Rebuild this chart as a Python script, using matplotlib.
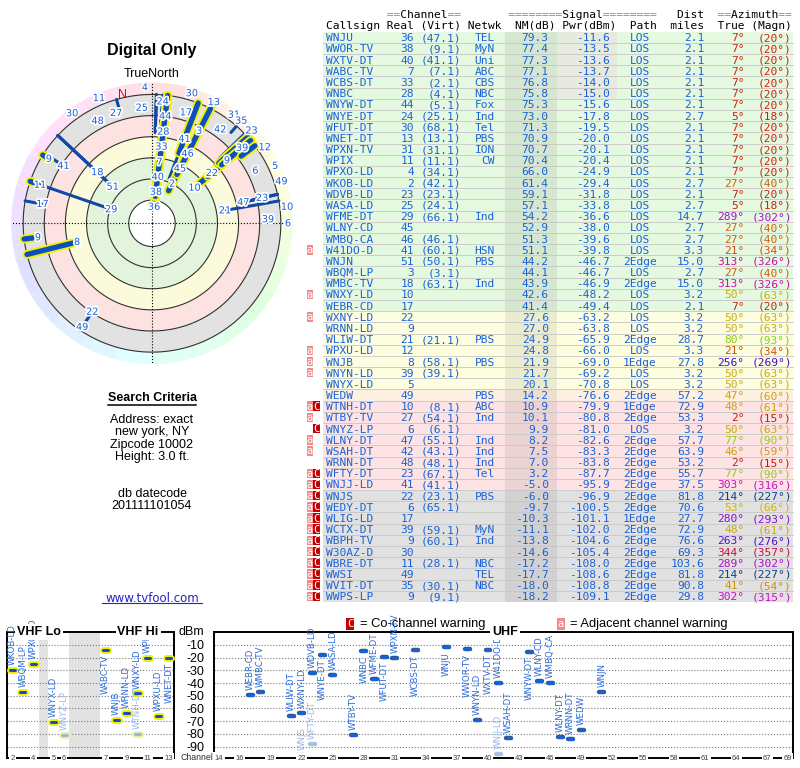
import colorsys
import numpy as np
import matplotlib
matplotlib.use("Agg")
import matplotlib.pyplot as plt
import matplotlib.patheffects as pe
import matplotlib.transforms as mtransforms
from matplotlib.patches import Rectangle
from matplotlib import font_manager

# station list
callsign = ["WNJU", "WWOR-TV", "WXTV-DT", "WABC-TV", "WCBS-DT", "WNBC", "WNYW-DT",
            "WNYE-DT", "WFUT-DT", "WNET-DT", "WPXN-TV", "WPIX", "WPXO-LD", "WKOB-LD",
            "WDVB-LD", "WASA-LD", "WFME-DT", "WLNY-CD", "WMBQ-CA", "W41DO-D", "WNJN",
            "WBQM-LP", "WMBC-TV", "WNXY-LD", "WEBR-CD", "WXNY-LD", "WRNN-LD", "WLIW-DT",
            "WPXU-LD", "WNJB", "WNYN-LD", "WNYX-LD", "WEDW", "WTNH-DT", "WTBY-TV",
            "WNYZ-LP", "WLNY-DT", "WSAH-DT", "WRNN-DT", "WFTY-DT", "WNJJ-LD", "WNJS",
            "WEDY-DT", "WLIG-LD", "WCTX-DT", "WBPH-TV", "W30AZ-D", "WBRE-DT", "WWSI",
            "WVIT-DT", "WWPS-LP"]
real_ch = [36, 38, 40, 7, 33, 28, 44, 24, 30, 13, 31, 11, 4, 2, 23, 25, 29, 45, 46, 41,
           51, 3, 18, 10, 17, 22, 9, 21, 12, 8, 39, 5, 49, 10, 27, 6, 47, 42, 48, 23,
           41, 22, 6, 17, 39, 9, 30, 11, 49, 35, 9]
virt_ch = [47.1, 9.1, 41.1, 7.1, 2.1, 4.1, 5.1, 25.1, 68.1, 13.1, 31.1, 11.1, 34.1, 42.1,
           23.1, 24.1, 66.1, None, 46.1, 60.1, 50.1, 3.1, 63.1, None, None, None, None,
           21.1, None, 58.1, 39.1, None, None, 8.1, 54.1, 6.1, 55.1, 43.1, 48.1, 67.1,
           41.1, 23.1, 65.1, None, 59.1, 60.1, None, 28.1, None, 30.1, 9.1]
network = ["TEL", "MyN", "Uni", "ABC", "CBS", "NBC", "Fox", "Ind", "Tel", "PBS", "ION", "CW",
           "", "", "", "", "Ind", "", "", "HSN", "PBS", "", "Ind", "", "", "", "", "PBS", "",
           "PBS", "", "", "PBS", "ABC", "Ind", "", "Ind", "Ind", "Ind", "Tel", "", "PBS", "",
           "", "MyN", "Ind", "", "NBC", "TEL", "NBC", ""]
nm_db = [79.3, 77.4, 77.3, 77.1, 76.8, 75.8, 75.3, 73.0, 71.3, 70.9, 70.7, 70.4, 66.0, 61.4,
         59.1, 57.1, 54.2, 52.9, 51.3, 51.1, 44.2, 44.1, 43.9, 42.6, 41.4, 27.6, 27.0, 24.9,
         24.8, 21.9, 21.7, 20.1, 14.2, 10.9, 10.1, 9.9, 8.2, 7.5, 7.0, 3.2, -5.0, -6.0, -9.7,
         -10.3, -11.1, -13.8, -14.6, -17.2, -17.7, -18.0, -18.2]
pwr_dbm = [-11.6, -13.5, -13.6, -13.7, -14.0, -15.0, -15.6, -17.8, -19.5, -20.0, -20.1, -20.4,
           -24.9, -29.4, -31.8, -33.8, -36.6, -38.0, -39.6, -39.8, -46.7, -46.7, -46.9, -48.2,
           -49.4, -63.2, -63.8, -65.9, -66.0, -69.0, -69.2, -70.8, -76.6, -79.9, -80.8, -81.0,
           -82.6, -83.3, -83.8, -87.7, -95.9, -96.9, -100.5, -101.1, -102.0, -104.6, -105.4,
           -108.0, -108.6, -108.8, -109.1]
path = ["LOS", "LOS", "LOS", "LOS", "LOS", "LOS", "LOS", "LOS", "LOS", "LOS",
        "LOS", "LOS", "LOS", "LOS", "LOS", "LOS", "LOS", "LOS", "LOS", "LOS",
        "2Edge", "LOS", "2Edge", "LOS", "LOS", "LOS", "LOS", "2Edge", "LOS", "1Edge",
        "LOS", "LOS", "2Edge", "1Edge", "2Edge", "LOS", "2Edge", "2Edge", "2Edge", "2Edge",
        "2Edge", "2Edge", "2Edge", "1Edge", "2Edge", "2Edge", "2Edge", "2Edge", "2Edge",
        "2Edge", "2Edge"]
dist_mi = [2.1, 2.1, 2.1, 2.1, 2.1, 2.1, 2.1, 2.7, 2.1, 2.1, 2.1, 2.1, 2.1, 2.7, 2.1, 2.7,
           14.7, 2.7, 2.7, 3.3, 15.0, 2.7, 15.0, 3.2, 2.1, 3.2, 3.2, 28.7, 3.3, 27.8, 3.2,
           3.2, 57.2, 72.9, 53.3, 3.2, 57.7, 63.9, 53.2, 55.7, 37.5, 81.8, 70.6, 27.7, 72.9,
           76.6, 69.3, 103.6, 81.8, 90.8, 29.8]
az_true = [7, 7, 7, 7, 7, 7, 7, 5, 7, 7, 7, 7, 7, 27, 7, 5, 289, 27, 27, 21, 313, 27, 313,
           50, 7, 50, 50, 80, 21, 256, 50, 50, 47, 48, 2, 50, 77, 46, 2, 77, 303, 214, 53,
           280, 48, 263, 344, 289, 214, 41, 302]
az_magn = [20, 20, 20, 20, 20, 20, 20, 18, 20, 20, 20, 20, 20, 40, 20, 18, 302, 40, 40, 34,
           326, 40, 326, 63, 20, 63, 63, 93, 34, 269, 63, 63, 60, 61, 15, 63, 90, 59, 15, 90,
           316, 227, 66, 293, 61, 276, 357, 302, 227, 54, 315]
warn = ["", "", "", "", "", "", "", "", "", "",
        "", "", "", "", "", "", "", "", "", "a",
        "", "", "", "a", "", "a", "", "", "a", "a",
        "a", "", "", "aC", "a", "C", "a", "a", "", "aC",
        "aC", "aC", "aC", "aC", "aC", "aC", "aC", "aC", "aC", "aC", "aC"]

vhf_ticks = [2, 4, 5, 6, 7, 9, 11, 13]
uhf_ticks = [14, 16, 19, 22, 25, 28, 31, 34, 37, 40, 43, 46, 49, 52, 55, 58, 61, 64, 67, 69]
dbm_ticks = [-10, -20, -30, -40, -50, -60, -70, -80, -90]
mag_decl = -13      # magnetic north relative to true north, degrees


def pick(name, fallback):
    try:
        font_manager.findfont(name, fallback_to_default=False)
        return name
    except ValueError:
        return fallback


MONO = "DejaVu Sans Mono"
SANS = pick("Liberation Sans", "DejaVu Sans")
NARROW = pick("Liberation Sans Narrow", "DejaVu Sans")
NSCALE = 1.0 if NARROW != "DejaVu Sans" else 0.78
BLUE = "#1b62d6"


def zone_color(nm):
    if nm >= 34:
        return "#e5f8e0"
    if nm >= 15:
        return "#fdfde0"
    if nm >= 12:
        return "#fdefe2"
    if nm >= -5.5:
        return "#fde3e3"
    return "#e1e1e1"


def shade(c, k):
    r, g, b = matplotlib.colors.to_rgb(c)
    return (r * k, g * k, b * k)


def az_color(az):
    h = (az % 360) / 360.0
    v = 0.55 if 0.5 < h < 0.7 else 0.8
    return colorsys.hsv_to_rgb(h, 0.92, v)


fig = plt.figure(figsize=(8, 7.68), dpi=100)
ov = fig.add_axes([0, 0, 1, 1])
ov.set_xlim(0, 800)
ov.set_ylim(768, 0)
ov.axis("off")

# ---------------- table ----------------
X0, CW = 326.0, 6.75
ROW0, RH = 37.3, 11.18


def colx(c):
    return X0 + c * CW


head1 = "         ==Channel==       ========Signal========   Dist  ==Azimuth=="
head2 = "Callsign Real (Virt) Netwk  NM(dB) Pwr(dBm)  Path  miles  True (Magn)"
hk = dict(family=MONO, fontsize=8.1, va="baseline", ha="left")
ov.text(X0, 18.4, "".join(" " if c == "=" else c for c in head1), color="black", **hk)
ov.text(X0, 18.4, "".join(c if c == "=" else " " for c in head1), color="#8a8a8a", **hk)
ov.text(X0, 29.1, head2, color="black", **hk)

for i, cs in enumerate(callsign):
    yc = ROW0 + i * RH
    top = yc - RH / 2
    zc = zone_color(nm_db[i])
    ov.add_patch(Rectangle((323, top), 470, RH, fc=zc, ec="none"))
    ov.add_patch(Rectangle((505, top), 52, RH, fc=shade(zc, 0.93), ec="none"))
    if pwr_dbm[i] >= -15:
        ov.add_patch(Rectangle((557, top), 60, RH, fc="#e6eadf", ec="none"))
    if i < len(callsign) - 1:
        ov.plot([323, 793], [top + RH, top + RH], color="#c6c6c6", lw=0.6)
    base = yc + 4
    kw = dict(family=MONO, fontsize=8.1, color=BLUE, va="baseline")
    ov.text(colx(0), base, cs, ha="left", **kw)
    ov.text(colx(13), base, str(real_ch[i]), ha="right", **kw)
    if virt_ch[i] is not None:
        ov.text(colx(20), base, "(%.1f)" % virt_ch[i], ha="right", **kw)
    ov.text(colx(25), base, network[i], ha="right", **kw)
    ov.text(colx(33), base, "%.1f" % nm_db[i], ha="right", **kw)
    ov.text(colx(42), base, "%.1f" % pwr_dbm[i], ha="right", **kw)
    ov.text(colx(46.5), base, path[i], ha="center", **kw)
    ov.text(colx(56), base, "%.1f" % dist_mi[i], ha="right", **kw)
    kw["color"] = az_color(az_true[i])
    ov.text(colx(62), base, "%d°" % az_true[i], ha="right", **kw)
    ov.text(colx(69), base, "(%d°)" % az_magn[i], ha="right", **kw)
    if "a" in warn[i]:
        ov.add_patch(Rectangle((306.5, top + 0.8), 6.8, RH - 1.6, fc="#f28a8a", ec="none"))
        ov.text(309.9, base - 0.5, "a", family=MONO, fontsize=7.5, color="white",
                ha="center", va="baseline")
    if "C" in warn[i]:
        ov.add_patch(Rectangle((313.3, top + 0.8), 6.8, RH - 1.6, fc="#c40000", ec="none"))
        ov.text(316.7, base - 0.5, "C", family=MONO, fontsize=7.5, color="white",
                ha="center", va="baseline")

# ---------------- left column text ----------------
ov.text(152, 51, "Digital Only", ha="center", va="center", family=SANS, fontsize=11.5,
        weight="bold")
ov.text(152, 74, "TrueNorth", ha="center", va="center", family=SANS, fontsize=9)
ov.text(152, 398, "Search Criteria", ha="center", va="center", family=SANS, fontsize=9,
        weight="bold")
ov.plot([108, 196], [405, 405], color="black", lw=1.1)
for txt, y in zip(["Address: exact", "new york, NY", "Zipcode 10002", "Height: 3.0 ft.",
                   "db datecode", "201111101054"], [420, 432.5, 445, 457, 494, 506]):
    ov.text(152, y, txt, ha="center", va="center", family=SANS, fontsize=9)
ov.text(152, 598, "www.tvfool.com", ha="center", va="center", family="DejaVu Sans",
        fontsize=8.5, color="#2424c8")
ov.plot([102, 202], [603, 603], color="#2424c8", lw=0.8)

# legend of warnings
ov.text(350, 624, "C", color="white", family=MONO, fontsize=7.5, ha="center", va="center",
        bbox=dict(boxstyle="square,pad=0.12", fc="#c40000", ec="none"))
ov.text(360, 624, "= Co-channel warning", family=SANS, fontsize=9.3, ha="left", va="center")
ov.text(561, 624, "a", color="white", family=MONO, fontsize=7.5, ha="center", va="center",
        bbox=dict(boxstyle="square,pad=0.12", fc="#f28a8a", ec="none"))
ov.text(570, 624, "= Adjacent channel warning", family=SANS, fontsize=9.3, ha="left",
        va="center")

# ---------------- polar plot ----------------
CX, CY, ROUT = 152.0, 223.3, 141.0
PX = 1.056                      # pixels per dB on the radar
RMAX = ROUT / PX
pax = fig.add_axes([(CX - ROUT) / 800, 1 - (CY + ROUT) / 768, 2 * ROUT / 800, 2 * ROUT / 768],
                   projection="polar")
pax.set_theta_zero_location("N")
pax.set_theta_direction(-1)
pax.set_ylim(0, RMAX)
pax.axis("off")

OFFS = 96.0                     # rho = OFFS - NM
zones = [(0, 22, "white"), (22, 62, "#e2f5dc"), (62, 82, "#fbfbdc"), (82, 102, "#fde2e2"),
         (102, 122, "#e2e2e2")]
for r0, r1, c in zones:
    pax.bar(0, r1 - r0, width=2 * np.pi, bottom=r0, color=c, edgecolor="none", zorder=1)
seg = np.arange(0, 360, 15)
pax.bar(np.radians(seg), RMAX - 122, width=np.radians(15), bottom=122, align="edge",
        color=[colorsys.hsv_to_rgb(a / 360, 0.12, 1.0) for a in seg], edgecolor="none",
        zorder=1)
circ = np.linspace(0, 2 * np.pi, 361)
for rr in [22, 42, 62, 82, 102, 122]:
    pax.plot(circ, np.full_like(circ, rr), color="#303030", lw=0.8, zorder=2)
for th in [0, 0.5 * np.pi, np.pi, 1.5 * np.pi]:
    pax.plot([th, th], [0, RMAX], color="black", lw=0.8, ls=":", zorder=2)

for vhf_pass in (False, True):
    for i in range(len(callsign)):
        if (real_ch[i] <= 13) != vhf_pass:
            continue
        r_in = OFFS - nm_db[i]
        if r_in >= 122:
            continue
        th = np.radians(az_true[i])
        if vhf_pass:
            pax.plot([th, th], [r_in, 122], color="#f2f200", lw=6.5, solid_capstyle="round",
                     zorder=3)
            pax.plot([th, th], [r_in, 122], color="#0e4fbf", lw=3.8, solid_capstyle="round",
                     zorder=3)
        else:
            pax.plot([th, th], [r_in, 122], color="#1048a8", lw=2.2, solid_capstyle="round",
                     zorder=3)


def is_free(x, y, w, placed):
    return all(abs(x - qx) >= (w + qw) / 2 or abs(y - qy) >= 14.5 for qx, qy, qw in placed)


n_th, n_r = np.radians(mag_decl), 132.0
# keep labels clear of the "N" mark and of the "TrueNorth" caption above the dial
placed = [(n_r * np.sin(n_th), n_r * np.cos(n_th), 10), (0.0, 151.0, 60.0)]
for i in np.argsort(-np.array(nm_db)):
    r_in = OFFS - nm_db[i]
    if r_in >= 122:
        continue
    th = np.radians(az_true[i])
    lab = str(real_ch[i])
    w = 7.0 * len(lab) + 4
    r = r_in * PX - 1
    while r < 136:
        if is_free(r * np.sin(th), r * np.cos(th), w, placed):
            break
        r += 1
    thl = th
    if not is_free(r * np.sin(th), r * np.cos(th), w, placed):
        # crowded near the rim: slide the label sideways along the rim
        done = False
        for rr in [136, 126, 116, 146]:
            for dth in [0, 5, -5, 10, -10, 15, -15, 20, -20, 25, -25, 30, -30, 35, 40]:
                t2 = th + np.radians(dth)
                if is_free(rr * np.sin(t2), rr * np.cos(t2), w, placed):
                    r, thl, done = rr, t2, True
                    break
            if done:
                break
        if not done:
            r, thl = 136, th
    placed.append((r * np.sin(thl), r * np.cos(thl), w))
    pax.text(thl, r / PX, lab, ha="center", va="center", family=NARROW,
             fontsize=9 * NSCALE, color=BLUE, zorder=5, clip_on=False,
             path_effects=[pe.withStroke(linewidth=2.5, foreground="white")])
pax.text(n_th, n_r / PX, "N", ha="center", va="center", family=SANS, fontsize=9,
         color="#e00020", zorder=5)

# ---------------- channel / power chart ----------------
YMIN, YMAX = -99, 0.2
LO_GAP, HI_GAP = 0.92, 2.94


def vhf_slot(ch):
    return ch - 2 + (LO_GAP if ch >= 5 else 0) + (HI_GAP if ch >= 7 else 0)


vhf = fig.add_axes([7 / 800, 1 - 758 / 768, 167 / 800, 126 / 768])
uhf = fig.add_axes([214 / 800, 1 - 758 / 768, 579 / 800, 126 / 768])
vhf.set_xlim(-0.5, vhf_slot(13) + 0.5)
uhf.set_xlim(13.5, 69.5)
for ax in (vhf, uhf):
    ax.set_ylim(YMIN, YMAX)
    ax.set_yticks(dbm_ticks)
    ax.set_xticks([])
    ax.grid(axis="y", ls=":", color="#7a7a7a", lw=0.8)
    for sp in ax.spines.values():
        sp.set_linewidth(1.4)
        sp.set_color("black")
vhf.tick_params(axis="y", length=0, labelleft=False)
uhf.tick_params(axis="y", length=0, pad=7, labelsize=9)
uhf.set_yticklabels([str(v) for v in dbm_ticks], family=SANS)
vhf.axvspan(vhf_slot(4) + 0.5, vhf_slot(5) - 0.5, color="#e2e2e2", lw=0, zorder=0)
vhf.axvspan(vhf_slot(6) + 0.5, vhf_slot(7) - 0.5, color="#e2e2e2", lw=0, zorder=0)

for i in range(len(callsign)):
    p = pwr_dbm[i]
    if p < YMIN:
        continue
    is_vhf = real_ch[i] <= 13
    ax = vhf if is_vhf else uhf
    x = vhf_slot(real_ch[i]) if is_vhf else real_ch[i]
    faded = "C" in warn[i]
    if is_vhf:
        under, core = ("#f2f29a", "#95b7ea") if faded else ("#f4f000", "#0c52c6")
        ulw = 5.0
    else:
        under, core = ("#b4c6e2", "#a0bfee") if faded else ("#34588f", "#1562d6")
        ulw = 3.2
    ax.plot([x - 0.24, x + 0.24], [p, p], color=under, lw=ulw, solid_capstyle="round",
            zorder=4, clip_on=False)
    ax.plot([x - 0.24, x + 0.24], [p, p], color=core, lw=2.2, solid_capstyle="round",
            zorder=5, clip_on=False)
    below = p >= -20
    ax.annotate(callsign[i], (x, p), xytext=(0, -3.5 if below else 3.5),
                textcoords="offset points", rotation=90, ha="center",
                va="top" if below else "bottom", family=NARROW, fontsize=8 * NSCALE,
                color="#9ab8ea" if faded else "#2a6bdc", zorder=6, annotation_clip=False)

for ax, ticks, fx in ((vhf, vhf_ticks, vhf_slot), (uhf, uhf_ticks, lambda c: c)):
    tr = mtransforms.blended_transform_factory(ax.transData, ax.transAxes)
    for ch in ticks:
        ax.text(fx(ch), 0, str(ch), transform=tr, ha="center", va="center", fontsize=5.5,
                family=SANS, color="#404040", zorder=7, clip_on=False,
                bbox=dict(boxstyle="square,pad=0.15", fc="white", ec="none"))

hb = dict(boxstyle="square,pad=0.15", fc="white", ec="none")
vhf.text(0.19, 1.0, "VHF Lo", transform=vhf.transAxes, ha="center", va="center",
         family=SANS, fontsize=9, weight="bold", bbox=hb, zorder=7)
vhf.text(0.785, 1.0, "VHF Hi", transform=vhf.transAxes, ha="center", va="center",
         family=SANS, fontsize=9, weight="bold", bbox=hb, zorder=7)
uhf.text(0.503, 1.0, "UHF", transform=uhf.transAxes, ha="center", va="center",
         family=SANS, fontsize=9, weight="bold", bbox=hb, zorder=7)
uhf.text(-0.017, 1.0, "dBm", transform=uhf.transAxes, ha="right", va="center",
         family=SANS, fontsize=9)
uhf.text(-0.001, 0.0, "Channel", transform=uhf.transAxes, ha="right", va="center",
         family=SANS, fontsize=6.3, color="#303030", bbox=hb, zorder=7)

fig.savefig("out.png", dpi=100)
